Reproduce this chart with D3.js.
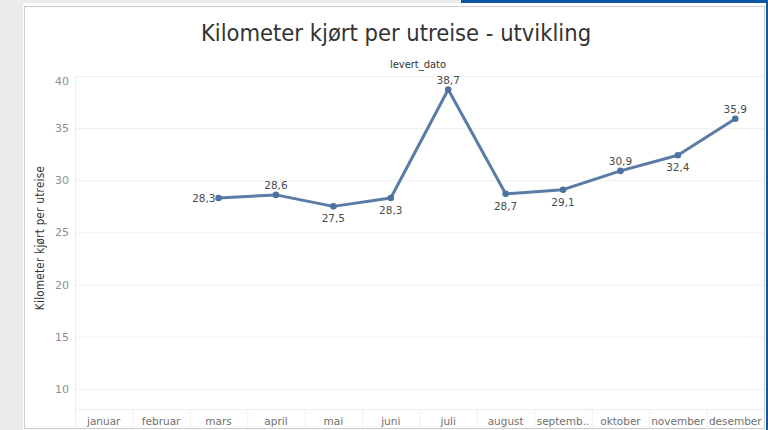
<!DOCTYPE html>
<html>
<head>
<meta charset="utf-8">
<script src="https://cdn.jsdelivr.net/npm/d3@7"></script>
<style>
  body { margin: 0; background: #fff; }
  svg { display: block; }
  .tick-y { font-family: "DejaVu Sans", Verdana, sans-serif; font-size: 11px; fill: #8e8e8e; }
  .tick-x { font-family: "DejaVu Sans", Verdana, sans-serif; font-size: 10.5px; fill: #707070; }
  .lbl { font-family: "DejaVu Sans", Verdana, sans-serif; font-size: 10.5px; fill: #4a4a4a; }
</style>
</head>
<body>
<svg id="chart" width="768" height="430"></svg>
<script>
// months on the x axis
var months = ['januar', 'februar', 'mars', 'april', 'mai', 'juni', 'juli',
  'august', 'septemb..', 'oktober', 'november', 'desember'];
// km per trip, null where there is no data
var kmValues = [null, null, 28.3, 28.6, 27.5, 28.3, 38.7, 28.7, 29.1, 30.9, 32.4, 35.9];
// where the value label goes relative to the point
var labelPos = [null, null, 'left', 'above', 'below', 'below', 'above',
  'below', 'below', 'above', 'below', 'above'];
var yTicks = [10, 15, 20, 25, 30, 35, 40];
var yDomain = [8.07, 40];

var svg = d3.select('#chart');
var plotLeft = 75, plotRight = 764, plotTop = 76, plotBottom = 409;

// page background / frame
svg.append('rect').attr('x', 0).attr('y', 0).attr('width', 768).attr('height', 430).attr('fill', '#ebebeb');
svg.append('rect').attr('x', 461).attr('y', 0).attr('width', 307).attr('height', 3).attr('fill', '#0f56a3');
svg.append('rect').attr('x', 766).attr('y', 0).attr('width', 2).attr('height', 430).attr('fill', '#0f56a3');
svg.append('rect').attr('x', 23).attr('y', 3).attr('width', 743).attr('height', 427).attr('fill', '#fff');
svg.append('rect').attr('x', 24.5).attr('y', 6.5).attr('width', 740).attr('height', 422)
  .attr('fill', '#fff').attr('stroke', '#cfcfcf').attr('stroke-width', 1.2);

svg.append('text')
  .attr('x', 396).attr('y', 41)
  .attr('text-anchor', 'middle')
  .style('font-family', '"DejaVu Sans Condensed", "Liberation Sans Narrow", sans-serif')
  .style('font-size', '23.5px')
  .style('fill', '#333')
  .text('Kilometer kjørt per utreise - utvikling');

svg.append('text')
  .attr('x', 418).attr('y', 68)
  .attr('text-anchor', 'middle')
  .style('font-family', '"DejaVu Sans Condensed", sans-serif')
  .style('font-size', '11px')
  .style('fill', '#333')
  .text('levert_dato');

var x = d3.scaleBand().domain(months).range([plotLeft, plotRight]);
var y = d3.scaleLinear().domain(yDomain).range([plotBottom, plotTop]);

// gridlines
svg.append('g').selectAll('line')
  .data(yTicks)
  .enter().append('line')
  .attr('x1', plotLeft).attr('x2', plotRight)
  .attr('y1', function(d) { return y(d) + 0.5; })
  .attr('y2', function(d) { return y(d) + 0.5; })
  .attr('stroke', '#efefef').attr('stroke-width', 1);

// pane edges
svg.append('line').attr('x1', plotLeft + 0.5).attr('x2', plotLeft + 0.5)
  .attr('y1', plotTop).attr('y2', 428).attr('stroke', '#ececec');
svg.append('line').attr('x1', plotLeft).attr('x2', plotRight)
  .attr('y1', plotBottom + 0.5).attr('y2', plotBottom + 0.5).attr('stroke', '#ececec');

// x column separators under the pane
svg.append('g').selectAll('line')
  .data(months.slice(1))
  .enter().append('line')
  .attr('x1', function(d) { return x(d) + 0.5; })
  .attr('x2', function(d) { return x(d) + 0.5; })
  .attr('y1', plotBottom).attr('y2', 428)
  .attr('stroke', '#f0f0f0');

// y axis labels (top one kept inside the pane)
svg.append('g').selectAll('text')
  .data(yTicks)
  .enter().append('text')
  .attr('class', 'tick-y')
  .attr('x', 69)
  .attr('y', function(d) { return d === 40 ? y(d) + 9 : y(d) + 4; })
  .attr('text-anchor', 'end')
  .text(function(d) { return d; });

svg.append('text')
  .attr('transform', 'translate(44,238) rotate(-90)')
  .attr('text-anchor', 'middle')
  .style('font-family', '"DejaVu Sans Condensed", sans-serif')
  .style('font-size', '11.5px')
  .style('letter-spacing', '0.3px')
  .style('fill', '#333')
  .text('Kilometer kjørt per utreise');

// x axis labels
svg.append('g').selectAll('text')
  .data(months)
  .enter().append('text')
  .attr('class', 'tick-x')
  .attr('x', function(d) { return x(d) + x.bandwidth() / 2; })
  .attr('y', 425)
  .attr('text-anchor', 'middle')
  .text(function(d) { return d; });

var points = months.map(function(m, i) {
  return { month: m, value: kmValues[i], pos: labelPos[i] };
}).filter(function(d) { return d.value !== null; });

var line = d3.line()
  .x(function(d) { return x(d.month) + x.bandwidth() / 2; })
  .y(function(d) { return y(d.value); });

svg.append('path')
  .datum(points)
  .attr('d', line)
  .attr('fill', 'none')
  .attr('stroke', '#5a7ba6')
  .attr('stroke-width', 3)
  .attr('stroke-linejoin', 'round');

svg.append('g').selectAll('circle')
  .data(points)
  .enter().append('circle')
  .attr('cx', function(d) { return x(d.month) + x.bandwidth() / 2; })
  .attr('cy', function(d) { return y(d.value); })
  .attr('r', 3.3)
  .attr('fill', '#4e73a0');

svg.append('g').selectAll('text')
  .data(points)
  .enter().append('text')
  .attr('class', 'lbl')
  .attr('x', function(d) {
    var cx = x(d.month) + x.bandwidth() / 2;
    return d.pos === 'left' ? cx - 3 : cx;
  })
  .attr('y', function(d) {
    var cy = y(d.value);
    if (d.pos === 'above') return cy - 6;
    if (d.pos === 'below') return cy + 16;
    return cy + 4;
  })
  .attr('text-anchor', function(d) { return d.pos === 'left' ? 'end' : 'middle'; })
  .text(function(d) { return String(d.value).replace('.', ','); });
</script>
</body>
</html>
